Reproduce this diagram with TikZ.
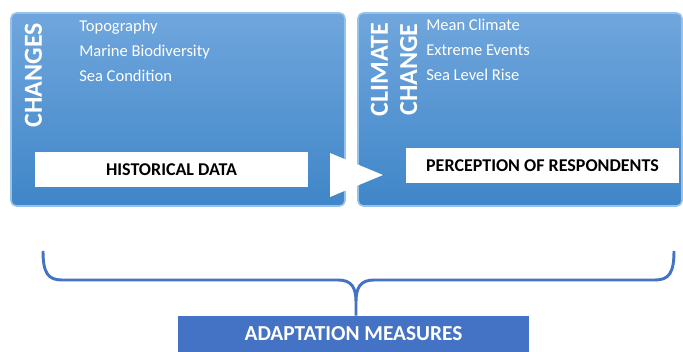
\documentclass[tikz,border=0pt]{standalone}
\usepackage{fontspec}
\setmainfont{Carlito}
\usepackage{tikz}
\usetikzlibrary{positioning}

\definecolor{paneltop}{RGB}{112,166,221}
\definecolor{panelbottom}{RGB}{63,134,200}
\definecolor{paneledge}{RGB}{150,194,236}
\definecolor{accentblue}{RGB}{68,114,196}

\begin{document}
\begin{tikzpicture}[x=0.75pt, y=-0.75pt,
    panel/.style = {rectangle, rounded corners=4pt, draw=paneledge, line width=1.2pt,
                    top color=paneltop, bottom color=panelbottom, inner sep=0pt},
    tag/.style   = {rectangle, fill=white, minimum width=204.75pt, minimum height=26.25pt,
                    font=\fontsize{13.5}{16}\selectfont\bfseries},
    side/.style  = {rotate=90, text=white, align=center,
                    font=\fontsize{19.5}{22}\selectfont\bfseries},
    item/.style  = {anchor=base west, inner sep=0pt, text=white, font=\fontsize{12.4}{14}\selectfont},
    brace/.style = {draw=accentblue, line width=2.2pt}]

    \useasboundingbox (0,0) rectangle (683,352);

    % the two panels
    \node (past) [panel, minimum width=250.5pt, minimum height=144.75pt] at (178,109.5) {};
    \node (now)  [panel, minimum width=243pt, minimum height=144.75pt]   at (520,109.5) {};

    \node (changes) [side] at (33.5,75) {CHANGES};
    \node (i1) [item] at (79,31.5) {Topography};
    \node (i2) [item] at (79,56.5) {Marine Biodiversity};
    \node (i3) [item] at (79,81.5) {Sea Condition};

    \node (climate) [side] at (394,69.5) {CLIMATE\\CHANGE};
    \node (j1) [item] at (426,30.5) {Mean Climate};
    \node (j2) [item] at (426,55.5) {Extreme Events};
    \node (j3) [item] at (426,80.5) {Sea Level Rise};

    \node (hist) [tag] at (171.5,169.5) {HISTORICAL DATA};
    \node (resp) [tag] at (542.5,165.5) {PERCEPTION OF RESPONDENTS};

    % arrow between the panels
    \fill [white] (330,153) -- (383,175) -- (330,197) -- cycle;

    \node (adapt) [rectangle, fill=accentblue, text=white, minimum width=263.25pt, minimum height=27pt,
                   font=\fontsize{16}{18}\selectfont\bfseries] at (353.5,334) {ADAPTATION MEASURES};

    % brace joining both panels
    \coordinate (cusp) at (356,302);
    \coordinate (bl) at (43,251);
    \coordinate (br) at (674,251);
    \path [brace]
        (bl) .. controls (43,273) and (48,280) .. (62,280) -- (338,280)
             .. controls (352,280) and (356,288) .. (cusp)
        (br) .. controls (674,273) and (669,280) .. (655,280) -- (374,280)
             .. controls (360,280) and (356,288) .. (cusp)
        (cusp) -- (cusp |- adapt.north);

\end{tikzpicture}
\end{document}
